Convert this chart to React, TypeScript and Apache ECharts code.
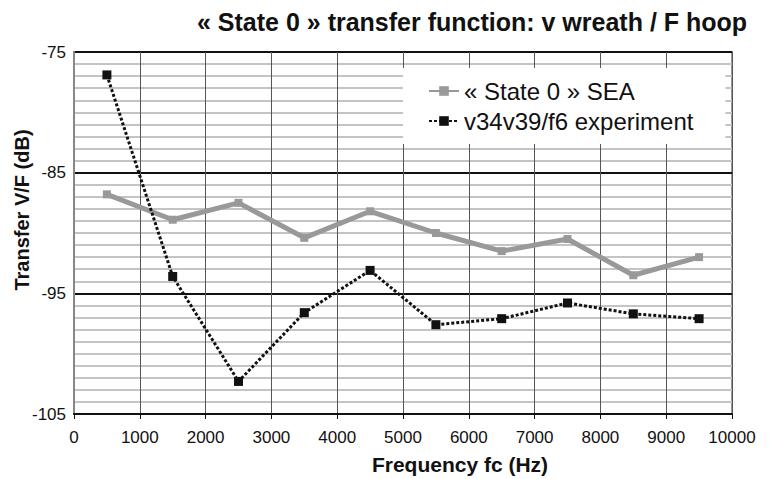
import React, { useEffect, useRef } from "react";
import * as echarts from "echarts";

const frequencies = [500, 1500, 2500, 3500, 4500, 5500, 6500, 7500, 8500, 9500];
const seaValues = [-86.8, -88.9, -87.5, -90.4, -88.2, -90.0, -91.5, -90.5, -93.5, -92.0];
const experimentValues = [-76.9, -93.6, -102.3, -96.6, -93.1, -97.6, -97.1, -95.8, -96.7, -97.1];
const seriesNames = ["« State 0 » SEA", "v34v39/f6 experiment"];
const titleText = "« State 0 » transfer function: v wreath / F hoop";
const xName = "Frequency fc (Hz)";
const yName = "Transfer V/F (dB)";

const FONT = "'Liberation Sans', Arial, sans-serif";

export default function App() {
  const ref = useRef<HTMLDivElement>(null);
  useEffect(() => {
    if (!ref.current) return;
    const chart = echarts.init(ref.current, undefined, { renderer: "svg" });
    chart.setOption({
      animation: false,
      backgroundColor: "#ffffff",
      title: {
        text: titleText,
        left: 192,
        top: 4,
        textStyle: { fontFamily: FONT, fontSize: 25, fontWeight: "bold", color: "#111" },
      },
      legend: {
        orient: "vertical",
        left: 403,
        top: 68,
        backgroundColor: "#ffffff",
        padding: [11, 32, 11, 25],
        itemGap: 6,
        itemWidth: 30,
        itemHeight: 12,
        textStyle: { fontFamily: FONT, fontSize: 24, color: "#111" },
        data: seriesNames,
      },
      grid: {
        left: 74,
        top: 52,
        right: 38,
        bottom: 65,
        show: true,
        backgroundColor: "#ffffff",
        borderColor: "#999",
        borderWidth: 2,
        outerBoundsMode: "none",
        containLabel: false,
      },
      xAxis: {
        type: "value",
        min: 0,
        max: 10000,
        interval: 1000,
        name: xName,
        nameLocation: "middle",
        nameGap: 40,
        nameMoveOverlap: false,
        nameTextStyle: { fontFamily: FONT, fontSize: 21, fontWeight: "bold", color: "#111", padding: [0, 0, 0, 114] },
        axisLine: { show: true, lineStyle: { color: "#111", width: 2 } },
        axisTick: { show: true, length: 5, lineStyle: { color: "#111" } },
        axisLabel: { fontFamily: FONT, fontSize: 17, color: "#111", margin: 15, formatter: (v: number) => String(v) },
        splitLine: { show: true, lineStyle: { color: "#555", width: 1 } },
      },
      yAxis: {
        type: "value",
        min: -105,
        max: -75,
        interval: 10,
        name: yName,
        nameLocation: "middle",
        nameGap: 42,
        nameMoveOverlap: false,
        nameTextStyle: { fontFamily: FONT, fontSize: 20, fontWeight: "bold", color: "#111", padding: [0, 0, 0, 46] },
        axisLine: { show: true, lineStyle: { color: "#888", width: 2 } },
        axisTick: { show: false },
        axisLabel: { fontFamily: FONT, fontSize: 17, color: "#111", margin: 8 },
        splitLine: { show: true, lineStyle: { color: "#111", width: 2 } },
        minorTick: { show: false, splitNumber: 10 },
        minorSplitLine: { show: true, lineStyle: { color: "#c4c4c4", width: 2 } },
      },
      series: [
        {
          name: seriesNames[0],
          type: "line",
          data: frequencies.map((f, i) => [f, seaValues[i]]),
          symbol: "rect",
          symbolSize: 8,
          lineStyle: { color: "#999", width: 5 },
          itemStyle: { color: "#999" },
          z: 3,
        },
        {
          name: seriesNames[1],
          type: "line",
          data: frequencies.map((f, i) => [f, experimentValues[i]]),
          symbol: "rect",
          symbolSize: 9,
          lineStyle: { color: "#111", width: 3, type: [3, 2] },
          itemStyle: { color: "#111" },
          z: 4,
        },
      ],
    });
    return () => chart.dispose();
  }, []);
  return <div ref={ref} style={{ position: "fixed", left: 0, top: 0, width: 770, height: 479 }} />;
}
